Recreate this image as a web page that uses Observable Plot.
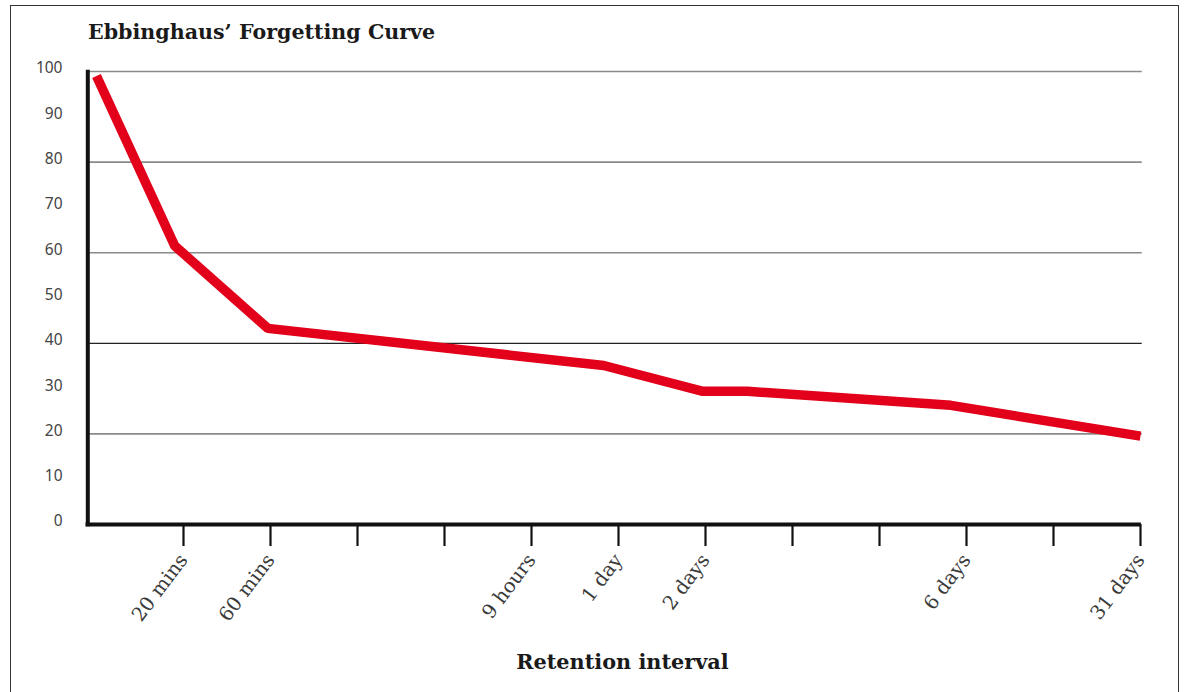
<!DOCTYPE html>
<html>
<head>
<meta charset="utf-8">
<script src="https://cdn.jsdelivr.net/npm/d3@7"></script>
<script src="https://cdn.jsdelivr.net/npm/@observablehq/plot@0.6"></script>
<style>
  html, body { margin: 0; padding: 0; background: #fff; }
  #wrap { position: relative; width: 1188px; height: 692px; overflow: hidden; }
  #frame { position: absolute; left: 10px; top: 5px; width: 1169px; height: 720px; border: 1.5px solid #333; box-sizing: border-box; }
  #title { position: absolute; left: 88px; top: 20px; font-family: "DejaVu Serif", serif; font-weight: bold; font-size: 20.6px; color: #1a1a1a; white-space: nowrap; }
  #xlabel { position: absolute; left: 0; width: 1245px; text-align: center; top: 649px; font-family: "DejaVu Serif", serif; font-weight: bold; font-size: 20.8px; color: #1a1a1a; white-space: nowrap; }
  #chart { position: absolute; left: 0; top: 0; }
</style>
</head>
<body>
<div id="wrap">
  <div id="frame"></div>
  <div id="chart"></div>
  <div id="title">Ebbinghaus’ Forgetting Curve</div>
  <div id="xlabel">Retention interval</div>
</div>
<script>
// Retention interval positions (evenly spaced index) and tick labels
const tickIdx = [1, 2, 3, 4, 5, 6, 7, 8, 9, 10, 11, 12];
const tickLabels = ["20 mins", "60 mins", "", "", "9 hours", "1 day", "2 days", "", "", "6 days", "", "31 days"];
// Curve points
const curveX = [0, 0.9, 1.97, 5.83, 6.97, 7.48, 9.82, 12];
const curveY = [99, 61.5, 43.3, 35.1, 29.4, 29.4, 26.3, 19.5];
// Y ticks and gridlines
const yTicks = [0, 10, 20, 30, 40, 50, 60, 70, 80, 90, 100];
const greyGrid = [100, 80, 60, 20];
const darkGrid = [40];

const curve = curveX.map((x, i) => ({x, y: curveY[i]}));

const chart = Plot.plot({
  width: 1188,
  height: 692,
  marginLeft: 96,
  marginRight: 48,
  marginTop: 71,
  marginBottom: 168,
  x: {domain: [0, 12]},
  y: {domain: [0, 100]},
  style: {background: "transparent"},
  marks: [
    Plot.ruleY(greyGrid, {stroke: "#8a8a8a", strokeWidth: 1.6, x1: -0.1, x2: 12.02}),
    Plot.ruleY(darkGrid, {stroke: "#222", strokeWidth: 1.2, x1: -0.1, x2: 12.02}),
    Plot.axisY({
      ticks: yTicks, tickSize: 0, tickPadding: 34, dy: -3,
      fontSize: 15.5, fontFamily: "Noto Sans, sans-serif", fill: "#444", label: null
    }),
    Plot.axisX({
      ticks: tickIdx,
      tickFormat: d => tickLabels[tickIdx.indexOf(d)],
      tickSize: 22, tickPadding: 10, tickRotate: -53,
      strokeWidth: 2.2, stroke: "#111",
      fontSize: 19.5, fontFamily: "DejaVu Serif, serif", fill: "#3a3a3a", label: null
    }),
    Plot.ruleX([-0.1], {stroke: "#111", strokeWidth: 4, y1: 100.3, y2: -0.5}),
    Plot.ruleY([0], {stroke: "#111", strokeWidth: 4, x1: -0.12, x2: 12.01}),
    Plot.line(curve, {x: "x", y: "y", stroke: "#e2001a", strokeWidth: 9.5, strokeLinejoin: "miter", strokeLinecap: "butt"})
  ]
});
document.getElementById("chart").appendChild(chart);
</script>
</body>
</html>
